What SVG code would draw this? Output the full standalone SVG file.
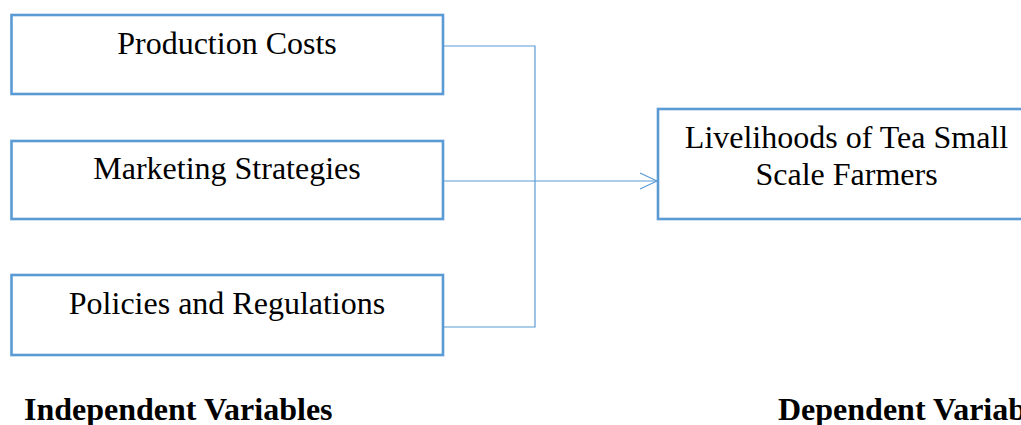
<svg xmlns="http://www.w3.org/2000/svg" width="1021" height="425" viewBox="0 0 1021 425">
<style>
.box{fill:#fff;stroke:#5b9bd5;stroke-width:2.6}
.t{font-family:"Liberation Serif",serif;font-size:32px;fill:#000;text-anchor:middle}
.b{font-family:"Liberation Serif",serif;font-size:32px;font-weight:bold;fill:#000}
.c{fill:none;stroke:#5b9bd5;stroke-width:1.2}
</style>
<defs>
<marker id="arr" markerWidth="20" markerHeight="20" refX="18" refY="9" orient="auto" markerUnits="userSpaceOnUse">
<path d="M1,1 L18,9 L1,17" fill="none" stroke="#5b9bd5" stroke-width="1.2"/>
</marker>
</defs>
<rect width="1021" height="425" fill="#fff"/>
<g id="connectors">
<path class="c" d="M443,46 H535 V327 H443"/>
<path class="c" d="M443,181 H657" marker-end="url(#arr)"/>
</g>
<g id="n1"><rect class="box" x="11.5" y="15" width="431.5" height="79"/><text class="t" x="227" y="54">Production Costs</text></g>
<g id="n2"><rect class="box" x="11.5" y="141" width="431.5" height="78"/><text class="t" x="227" y="179">Marketing Strategies</text></g>
<g id="n3"><rect class="box" x="11.5" y="275" width="431.5" height="80"/><text class="t" x="227" y="314">Policies and Regulations</text></g>
<g id="n4"><rect class="box" x="658" y="109" width="380" height="110"/><text class="t" x="846.5" y="148">Livelihoods of Tea Small</text><text class="t" x="846.5" y="185">Scale Farmers</text></g>
<g id="labels">
<text class="b" x="24" y="420">Independent Variables</text>
<text class="b" x="778" y="420">Dependent Variables</text>
</g>
</svg>
